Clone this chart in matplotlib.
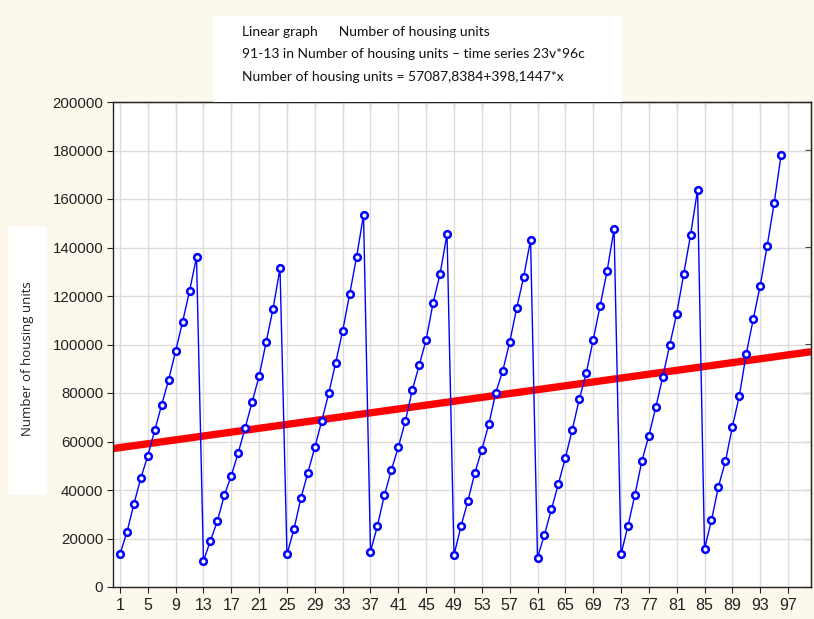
import matplotlib
matplotlib.use("Agg")
import matplotlib.pyplot as plt
import numpy as np
from matplotlib.patches import Rectangle

# monthly values, 8 cycles of 12
x_index = list(range(1, 97))
housing_units = [
    13500, 22600, 34200, 44900, 54100, 64600, 75200, 85500, 97300, 109300, 122100, 136000,
    10700, 19100, 27200, 37900, 45900, 55400, 65700, 76400, 87000, 100900, 114800, 131400,
    13500, 23800, 36600, 47100, 57600, 68500, 79900, 92500, 105600, 120700, 136000, 153500,
    14600, 25200, 37900, 48200, 57700, 68300, 81100, 91500, 102000, 117200, 129100, 145600,
    13200, 25000, 35500, 47100, 56600, 67100, 80100, 89100, 100900, 114900, 127700, 143100,
    12100, 21600, 32000, 42500, 53200, 64900, 77400, 88100, 101900, 116000, 130300, 147600,
    13500, 25200, 38100, 52000, 62400, 74100, 86700, 99800, 112700, 128900, 145300, 163800,
    15700, 27500, 41400, 51800, 66000, 78800, 96200, 110400, 124300, 140600, 158200, 178100,
]
intercept = 57087.8384
slope = 398.1447
x_ticks = list(range(1, 98, 4))
y_ticks = list(range(0, 200001, 20000))
title_lines = [
    "Linear graph      Number of housing units",
    "91-13 in Number of housing units \u2013 time series 23v*96c",
    "Number of housing units = 57087,8384+398,1447*x",
]

cream = "#fdf8ec"
fig = plt.figure(figsize=(8.14, 6.19), dpi=100, facecolor=cream)

# white boxes behind title and y-label
fig.patches.append(Rectangle((213 / 814, 1 - 102 / 619), (622 - 213) / 814, (102 - 16) / 619,
                             transform=fig.transFigure, facecolor="white", edgecolor="none", zorder=0))
fig.patches.append(Rectangle((8 / 814, 1 - 495 / 619), (47 - 8) / 814, (495 - 227) / 619,
                             transform=fig.transFigure, facecolor="white", edgecolor="none", zorder=0))

ax = fig.add_axes([113 / 814, 1 - 587 / 619, (811 - 113) / 814, 485 / 619])
ax.set_facecolor("white")

xl = np.array([0, 100.3])
ax.plot(xl, intercept + slope * xl, color="red", lw=5.3, solid_capstyle="butt", zorder=2)
ax.plot(x_index, housing_units, color="#0000ff", lw=1, marker="o", ms=4.8, mew=1.8,
        mfc="white", mec="#0000ff", zorder=3)

ax.set_xlim(0, 100.3)
ax.set_ylim(0, 200000)
ax.set_xticks(x_ticks)
ax.set_yticks(y_ticks)
ax.grid(True, color="#dcdcdc", lw=1)
ax.set_axisbelow(True)
ax.tick_params(axis="both", direction="out", length=4, color="#222222", labelcolor="#222222")
ax.tick_params(axis="x", labelsize=11.5, pad=4)
ax.tick_params(axis="y", labelsize=10.8, pad=3)
for lbl in ax.get_xticklabels() + ax.get_yticklabels():
    lbl.set_family("Liberation Sans")
for sp in ax.spines.values():
    sp.set_color("#222222")
    sp.set_linewidth(1)

# inward ticks on top and right
secx = ax.secondary_xaxis("top")
secx.set_xticks(x_ticks)
secx.tick_params(direction="in", length=4, color="#222222", labeltop=False)
secy = ax.secondary_yaxis("right")
secy.set_yticks(y_ticks)
secy.tick_params(direction="in", length=4, color="#222222", labelright=False)

fig.text(28 / 814, 1 - 359 / 619, "Number of housing units", rotation=90,
         ha="center", va="center", fontsize=9.5, family="Open Sans", color="#222222")
for i, line in enumerate(title_lines):
    fig.text(242 / 814, 1 - (32 + 22.5 * i) / 619, line, ha="left", va="center",
             fontsize=10, family="Lato", color="#111111")

fig.savefig("out.png", dpi=100, facecolor=cream)
